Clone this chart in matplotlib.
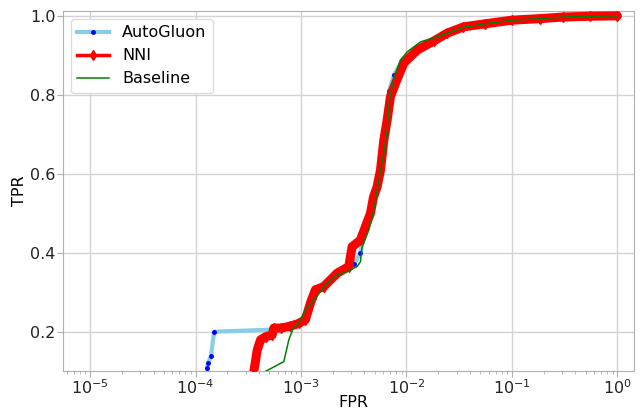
import numpy as np
import matplotlib
matplotlib.use('Agg')
import matplotlib.pyplot as plt

# values
ag_fpr = [1.29e-4, 1.29e-4, 1.31e-4, 1.40e-4, 1.50e-4, 6.82e-4, 8.55e-4, 9.53e-4, 1.06e-3,
          1.32e-3, 1.64e-3, 2.20e-3, 2.84e-3, 3.20e-3, 3.66e-3, 4.08e-3, 4.56e-3, 4.87e-3,
          5.27e-3, 5.60e-3, 6.00e-3, 6.40e-3, 6.85e-3, 7.60e-3, 9.00e-3, 1.20e-2, 1.81e-2,
          2.43e-2, 3.47e-2, 5.61e-2, 0.1005, 0.186, 0.308, 0.555, 1.0]
ag_tpr = [0.098, 0.108, 0.120, 0.138, 0.200, 0.206, 0.221, 0.225, 0.238,
          0.285, 0.316, 0.348, 0.362, 0.372, 0.400, 0.455, 0.500, 0.545,
          0.575, 0.620, 0.690, 0.750, 0.810, 0.850, 0.885, 0.912, 0.937,
          0.956, 0.972, 0.981, 0.989, 0.993, 0.997, 0.999, 1.0]

nni_fpr = [3.55e-4, 3.85e-4, 4.13e-4, 4.61e-4, 5.33e-4, 5.52e-4, 6.40e-4, 7.95e-4, 9.53e-4,
           1.10e-3, 1.23e-3, 1.37e-3, 1.64e-3, 2.20e-3, 2.84e-3, 3.05e-3, 3.66e-3, 4.08e-3,
           4.56e-3, 4.87e-3, 5.27e-3, 5.67e-3, 6.10e-3, 6.56e-3, 7.05e-3, 7.87e-3, 9.42e-3,
           1.26e-2, 1.81e-2, 2.43e-2, 3.47e-2, 5.61e-2, 0.1005, 0.186, 0.308, 0.555, 1.0]
nni_tpr = [0.095, 0.154, 0.179, 0.187, 0.192, 0.209, 0.209, 0.214, 0.221,
           0.230, 0.273, 0.306, 0.314, 0.348, 0.365, 0.415, 0.432, 0.466,
           0.500, 0.541, 0.567, 0.609, 0.685, 0.736, 0.795, 0.829, 0.880,
           0.913, 0.936, 0.956, 0.972, 0.980, 0.989, 0.993, 0.997, 0.999, 1.0]

base_fpr = [4.29e-4, 6.87e-4, 7.66e-4, 8.55e-4, 9.53e-4, 1.10e-3, 1.32e-3, 1.77e-3, 2.20e-3,
            2.74e-3, 3.41e-3, 3.66e-3, 3.80e-3, 4.39e-3, 4.73e-3, 5.08e-3, 5.46e-3, 6.10e-3,
            6.56e-3, 6.90e-3, 7.53e-3, 8.77e-3, 1.02e-2, 1.36e-2, 1.95e-2, 3.47e-2, 5.61e-2,
            0.1005, 0.186, 0.308, 0.555, 1.0]
base_tpr = [0.095, 0.124, 0.179, 0.213, 0.221, 0.255, 0.280, 0.323, 0.344,
            0.352, 0.365, 0.377, 0.415, 0.457, 0.491, 0.533, 0.584, 0.652,
            0.711, 0.787, 0.837, 0.888, 0.909, 0.934, 0.947, 0.971, 0.980,
            0.989, 0.993, 0.997, 0.999, 1.0]

fig = plt.figure(figsize=(6.44, 4.11), dpi=100)
ax = fig.add_axes([0.098, 0.097, 0.886, 0.876])

ax.plot(ag_fpr, ag_tpr, color='skyblue', lw=3, marker='.', ms=5,
        mfc='blue', mec='blue', label='AutoGluon', zorder=2)
ax.plot(nni_fpr, nni_tpr, color='red', lw=6.5, solid_joinstyle='round',
        solid_capstyle='round', zorder=3)
ax.plot(nni_fpr, nni_tpr, color='red', lw=2.5, marker='d', ms=5, label='NNI', zorder=3)
ax.plot(base_fpr, base_tpr, color='green', lw=1.1, label='Baseline', zorder=4)

ax.set_xscale('log')
ax.set_xlim(10 ** -5.256, 10 ** 0.155)
ax.set_ylim(0.1, 1.012)
ax.set_yticks([0.2, 0.4, 0.6, 0.8, 1.0])
ax.grid(True, color='#d3d3d3', lw=1)
ax.set_axisbelow(True)
for s in ax.spines.values():
    s.set_color('#b0b0b0')
ax.tick_params(labelsize=11.5, colors='#b0b0b0', labelcolor='#222222', length=4, pad=1.5)
ax.tick_params(which='minor', colors='#b0b0b0', length=2)
ax.set_xlabel('FPR', fontsize=11.5)
ax.set_ylabel('TPR', fontsize=11.5)
ax.xaxis.set_label_coords(0.508, -0.066)
ax.yaxis.set_label_coords(-0.063, 0.5)
ax.legend(loc='upper left', fontsize=11.5, edgecolor='#dddddd', framealpha=1)

fig.savefig('out.png', dpi=100)
